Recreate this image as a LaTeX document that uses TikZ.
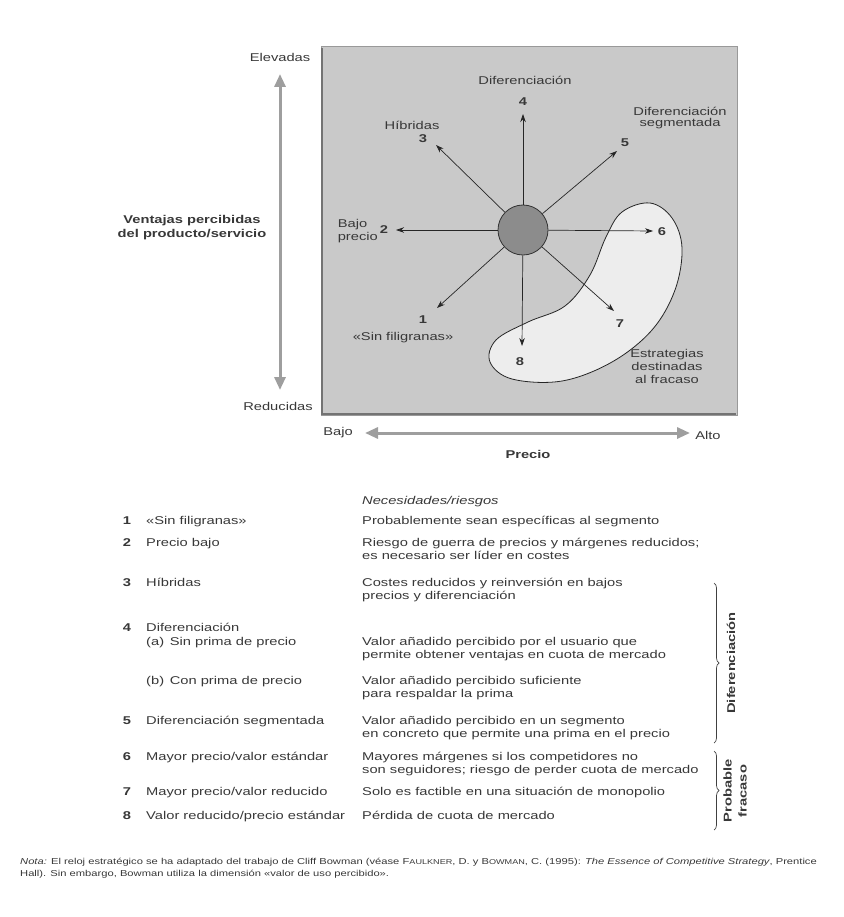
\documentclass[tikz,border=0pt]{standalone}
\usepackage{fontspec}
\setmainfont{Liberation Sans}[FakeStretch=1.3]
\usetikzlibrary{arrows.meta,decorations.pathreplacing}

\definecolor{boxgray}{gray}{0.79}
\definecolor{blobgray}{gray}{0.93}
\definecolor{hubgray}{gray}{0.55}
\definecolor{axisgray}{gray}{0.62}
\definecolor{inkgray}{gray}{0.22}

\tikzset{
	txt/.style={inner sep=0pt, text=inkgray, font=\fontsize{11.3}{13.5}\selectfont},
	num/.style={txt, font=\fontsize{11.3}{13.5}\selectfont\bfseries},
	hd/.style={txt, font=\fontsize{11.3}{14}\selectfont\bfseries, align=center},
	col/.style={txt, anchor=base west, align=left},
	ray/.style={-{Stealth[length=8pt,width=5.5pt]}, line width=0.7pt, black!85},
	axis/.style={{Triangle[length=13pt,width=11pt]}-{Triangle[length=13pt,width=11pt]}, line width=3pt, axisgray},
	grp/.style={decorate, decoration={brace, amplitude=5pt}, line width=0.7pt, black!75},
}

\begin{document}
\begin{tikzpicture}[x=1pt, y=-1pt]
			%%%%% START %%%%%
			\useasboundingbox (0,0) rectangle (843,917);
			
			% gray field
			\fill[boxgray] (321,47) rectangle (737,415);
			\draw[black!40, line width=1pt] (321,47) rectangle (737,415);
			\draw[black!55, line width=2.5pt] (322,48) -- (322,414) -- (736,414);
			
			% failure zone
			\draw[fill=blobgray, line width=0.8pt, draw=black!85] plot[smooth cycle, tension=0.6] coordinates {
				(650,203) (672,218) (682,248) (675,290) (652,330) (612,362) (562,381)
				(512,379) (490,362) (496,340) (528,322) (565,306) (590,275) (606,237) (622,212)};
			
			% clock
			\node[circle, draw=black!80, fill=hubgray, minimum size=50pt, inner sep=0pt, line width=0.8pt] (hub) at (523,230) {};
			
			\coordinate (t1) at (437,308);
			\coordinate (t2) at (396,230);
			\coordinate (t3) at (436,145);
			\coordinate (t4) at (523,114);
			\coordinate (t5) at (617,151);
			\coordinate (t6) at (653,231);
			\coordinate (t7) at (614,311);
			\coordinate (t8) at (522,346);
			\foreach \k in {1,...,8}
				\draw[ray] (hub) -- (t\k);
			
			\node[num] (d1) at (423,320) {1};
			\node[num] (d2) at (384,230) {2};
			\node[num] (d3) at (423,139) {3};
			\node[num] (d4) at (523,102) {4};
			\node[num] (d5) at (625,143) {5};
			\node[num] (d6) at (662,232) {6};
			\node[num] (d7) at (620,324) {7};
			\node[num] (d8) at (520,362) {8};
			
			\node[txt] (l1) at (403,338) {«Sin filigranas»};
			\node[txt, align=left, anchor=east] (l2) at (378,231) {Bajo\\precio};
			\node[txt] (l3) at (412,125) {Híbridas};
			\node[txt] (l4) at (525,80) {Diferenciación};
			\node[txt, align=center, font=\fontsize{11.3}{11.5}\selectfont] (l5) at (680,118) {Diferenciación\\segmentada};
			\node[txt, align=center, font=\fontsize{11.3}{13}\selectfont] (fail) at (667,366) {Estrategias\\destinadas\\al fracaso};
			
			% axes
			\node[txt] (elev) at (280,57) {Elevadas};
			\node[txt] (redu) at (278,406) {Reducidas};
			\coordinate (vt) at (280,74);
			\coordinate (vb) at (280,390);
			\draw[axis] (vt) -- (vb);
			\node[hd] (vent) at (192,228) {Ventajas percibidas\\del producto/servicio};
			
			\node[txt] (bajo) at (338,433) {Bajo};
			\node[txt] (alto) at (708,435) {Alto};
			\coordinate (hl) at (365,433);
			\coordinate (hr) at (690,433);
			\draw[axis] (hl) -- (hr);
			\node[hd] (prec) at (528,454) {Precio};
			
			% table (base = last line)
			\node[col, font=\fontsize{11.3}{13.5}\selectfont\itshape] (head) at (362,504) {Necesidades/riesgos};
			
			\node[num, anchor=base] (r1) at (127,524) {1};
			\node[col] (r1a) at (146,524) {«Sin filigranas»};
			\node[col] (r1b) at (362,524) {Probablemente sean específicas al segmento};
			
			\node[num, anchor=base] (r2) at (127,546) {2};
			\node[col] (r2a) at (146,546) {Precio bajo};
			\node[col] (r2b) at (362,559.5) {Riesgo de guerra de precios y márgenes reducidos;\\es necesario ser líder en costes};
			
			\node[num, anchor=base] (r3) at (127,586) {3};
			\node[col] (r3a) at (146,586) {Híbridas};
			\node[col] (r3b) at (362,599.5) {Costes reducidos y reinversión en bajos\\precios y diferenciación};
			
			\node[num, anchor=base] (r4) at (127,631.5) {4};
			\node[col] (r4a) at (146,645) {Diferenciación\\(a)\enspace Sin prima de precio};
			\node[col] (r4b) at (362,658.5) {Valor añadido percibido por el usuario que\\permite obtener ventajas en cuota de mercado};
			
			\node[col] (r4c) at (146,684) {(b)\enspace Con prima de precio};
			\node[col] (r4d) at (362,697.5) {Valor añadido percibido suficiente\\para respaldar la prima};
			
			\node[num, anchor=base] (r5) at (127,724) {5};
			\node[col] (r5a) at (146,724) {Diferenciación segmentada};
			\node[col] (r5b) at (362,737.5) {Valor añadido percibido en un segmento\\en concreto que permite una prima en el precio};
			
			\node[num, anchor=base] (r6) at (127,760) {6};
			\node[col] (r6a) at (146,760) {Mayor precio/valor estándar};
			\node[col] (r6b) at (362,773.5) {Mayores márgenes si los competidores no\\son seguidores; riesgo de perder cuota de mercado};
			
			\node[num, anchor=base] (r7) at (127,795) {7};
			\node[col] (r7a) at (146,795) {Mayor precio/valor reducido};
			\node[col] (r7b) at (362,795) {Solo es factible en una situación de monopolio};
			
			\node[num, anchor=base] (r8) at (127,819) {8};
			\node[col] (r8a) at (146,819) {Valor reducido/precio estándar};
			\node[col] (r8b) at (362,819) {Pérdida de cuota de mercado};
			
			% groups
			\coordinate (g1t) at (714,583);
			\coordinate (g1b) at (714,743);
			\coordinate (g2t) at (714,751);
			\coordinate (g2b) at (714,830);
			\draw[grp] (g1t) -- (g1b);
			\draw[grp] (g2t) -- (g2b);
			\node[hd, rotate=90] (g1) at (731,663) {Diferenciación};
			\node[hd, rotate=90, font=\fontsize{11.3}{15}\selectfont\bfseries] (g2) at (735,791) {Probable\\fracaso};
			
			% note
			\node[txt, anchor=base west, align=left, font=\fontsize{8.6}{12}\selectfont] (nota) at (20,876) {\textit{Nota:} El reloj estratégico se ha adaptado del trabajo de Cliff Bowman (véase F{\fontsize{7}{12}\selectfont AULKNER}, D. y B{\fontsize{7}{12}\selectfont OWMAN}, C. (1995): \textit{The Essence of Competitive Strategy}, Prentice\\Hall). Sin embargo, Bowman utiliza la dimensión «valor de uso percibido».};
			
			%%%%% END %%%%%
\end{tikzpicture}
\end{document}
